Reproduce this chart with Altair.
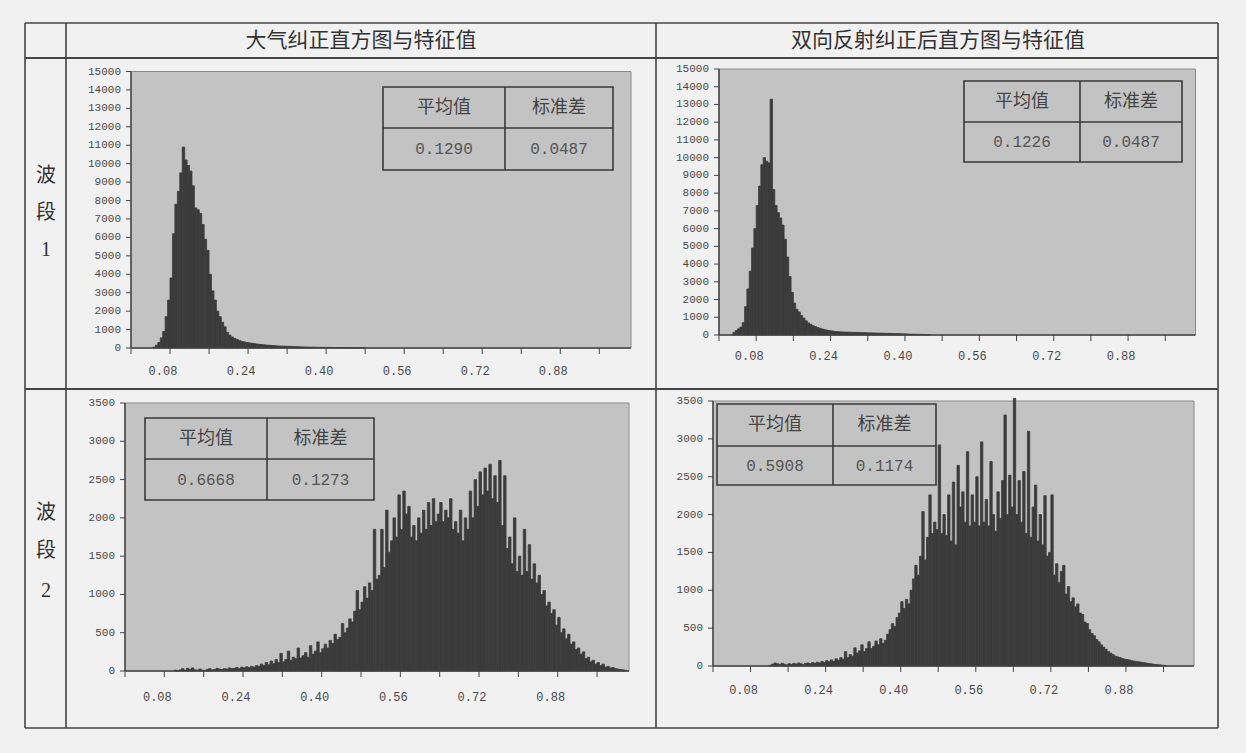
import altair as alt
import pandas as pd

# ---------------- data ----------------
BIN = 0.005
X_MAX = 1.025

# band 1, atmospheric correction (counts per 0.005 bin, starting at p1_start)
p1_start = 0.045
p1_counts = [50, 150, 300, 550, 900, 1700, 2600, 3800, 6200, 7800, 8500, 9500, 10900, 10200, 9900,
             9600, 8800, 7600, 7500, 7300, 6700, 5900, 5300, 4000, 3100, 2600, 2000, 1700, 1400, 1150,
             850, 700, 600, 520, 460, 400, 360, 330, 300, 280, 260, 240, 220, 200, 190, 175, 160, 150,
             140, 130, 120, 110, 105, 100, 95, 90, 85, 80, 75, 70, 65, 60, 55, 50, 48, 45, 42, 40, 38,
             36, 34, 32, 30, 28, 27, 26, 25, 24, 23, 22, 20, 18, 16, 14, 12, 10, 8]

# band 1, BRDF correction
p2_start = 0.030
p2_counts = [150, 250, 350, 450, 700, 1600, 2600, 3600, 4900, 6000, 7300, 8400, 9600, 10000, 9800,
             9700, 13300, 8200, 7300, 6900, 6600, 6200, 5400, 4400, 3300, 2400, 1800, 1450, 1300, 1100,
             950, 800, 680, 600, 520, 470, 420, 380, 340, 300, 280, 250, 230, 210, 195, 185, 175, 170,
             165, 160, 155, 150, 148, 145, 140, 135, 130, 125, 120, 118, 115, 112, 110, 105, 100, 95,
             92, 90, 85, 80, 78, 75, 70, 65, 60, 55, 50, 45, 40, 38, 35, 32, 30, 28, 25]

# band 2, atmospheric correction
p3_start = 0.100
p3_counts = [10, 0, 15, 30, 10, 35, 20, 40, 15, 10, 25, 10, 5, 20, 30, 15, 20, 35, 25, 20,
             30, 25, 40, 30, 35, 45, 30, 50, 40, 55, 45, 60, 50, 70, 60, 90, 70, 110, 80, 130,
             95, 150, 110, 230, 120, 150, 260, 140, 180, 160, 300, 170, 200, 240, 180, 330, 220, 260, 380, 240,
             290, 350, 300, 400, 360, 480, 410, 440, 620, 500, 560, 680, 640, 780, 1050, 800, 900, 1100, 950, 1150,
             1050, 1850, 1200, 1250, 1850, 1350, 2100, 1550, 1700, 2000, 1750, 2300, 1850, 2350, 2050, 2150, 1750, 1900, 1700, 2000,
             1800, 2100, 1850, 2200, 1900, 2250, 1950, 2050, 2200, 1950, 2100, 2000, 2250, 1850, 1950, 1800, 2100, 1700, 2000, 1850,
             2350, 2000, 2500, 2150, 2600, 2300, 2650, 2350, 2700, 2250, 2550, 2200, 2750, 1900, 2550, 1600, 1750, 1400, 2000, 1300,
             1500, 1250, 1850, 1300, 1650, 1200, 1400, 1150, 1250, 1000, 1050, 850, 900, 750, 800, 600, 700, 500, 550, 420,
             480, 350, 380, 280, 300, 220, 250, 160, 180, 120, 140, 90, 110, 70, 90, 50, 60, 40, 45, 30,
             25, 20, 15, 10]

# band 2, BRDF correction
p4_start = 0.120
p4_counts = [10, 25, 40, 30, 20, 35, 25, 15, 30, 20, 35, 25, 40, 30, 20, 35, 40, 30, 45, 35,
             50, 40, 60, 45, 70, 55, 80, 60, 95, 75, 110, 90, 190, 110, 150, 130, 240, 170, 200, 280,
             190, 230, 320, 230, 260, 330, 280, 360, 300, 340, 420, 480, 560, 520, 640, 700, 850, 760, 880, 820,
             1000, 1150, 1330, 1200, 1450, 2040, 1400, 1700, 2260, 1750, 1900, 1800, 2920, 1750, 2000, 1720, 2260, 1650, 2430, 1600,
             2650, 2100, 2300, 1900, 2830, 1850, 2260, 1900, 2500, 1850, 2960, 1900, 2200, 1850, 2700, 2000, 1780, 2300, 1950, 2450,
             3315, 2000, 2520, 2100, 3535, 2000, 2450, 1900, 2570, 1750, 3100, 1700, 2100, 2390, 1650, 2000, 1600, 2250, 1450, 1500,
             2260, 1200, 1350, 1100, 1250, 1330, 950, 1050, 850, 900, 780, 820, 700, 680, 580, 560, 480, 430, 400, 350,
             320, 280, 250, 220, 190, 170, 150, 130, 120, 110, 100, 90, 85, 80, 70, 65, 60, 55, 50, 45,
             40, 35, 30, 25, 20, 18, 15, 10, 8]

x_ticks = [0.0, 0.08, 0.16, 0.24, 0.32, 0.40, 0.48, 0.56, 0.64, 0.72, 0.80, 0.88, 0.96]
x_label_vals = [0.08, 0.24, 0.40, 0.56, 0.72, 0.88]
x_label_text = ["0.08", "0.24", "0.40", "0.56", "0.72", "0.88"]
y_ticks_band1 = [0, 1000, 2000, 3000, 4000, 5000, 6000, 7000, 8000, 9000, 10000, 11000, 12000, 13000, 14000, 15000]
y_ticks_band2 = [0, 500, 1000, 1500, 2000, 2500, 3000, 3500]

col_titles = ["大气纠正直方图与特征值", "双向反射纠正后直方图与特征值"]
row_titles = [["波", "段", "1"], ["波", "段", "2"]]
stat_headers = ["平均值", "标准差"]
stat_means = ["0.1290", "0.1226", "0.6668", "0.5908"]
stat_stds = ["0.0487", "0.0487", "0.1273", "0.1174"]

# ---------------- styles ----------------
PAGE_BG = "#f1f1f1"
PLOT_BG = "#c3c3c3"
BAR = "#3b3b3b"
LINE = "#454545"
CJK = "Noto Sans CJK SC"
NUM = "Liberation Mono"

one = pd.DataFrame({"k": [0]})


def hist_df(start, counts):
    x0 = [round(start + i * BIN, 4) for i in range(len(counts))]
    return pd.DataFrame({"x0": x0, "x1": [round(v + BIN, 4) for v in x0], "n": counts, "z": 0})


def panel(start, counts, xr, yr, ymax, yticks, label_dy):
    xs = alt.Scale(domain=[0, X_MAX], range=xr, nice=False, zero=False)
    ys = alt.Scale(domain=[0, ymax], range=yr, nice=False, zero=False)
    ax = dict(axis=None, scale=xs)
    ay = dict(axis=None, scale=ys)

    bg_df = pd.DataFrame({"a": [0.0], "b": [X_MAX], "c": [0], "d": [ymax]})
    bg = alt.Chart(bg_df).mark_rect(fill=PLOT_BG, stroke="#8a8a8a", strokeWidth=1).encode(
        x=alt.X("a:Q", **ax), x2="b:Q", y=alt.Y("c:Q", **ay), y2="d:Q")

    bars = alt.Chart(hist_df(start, counts)).mark_rect(color=BAR, stroke=BAR, strokeWidth=0.8).encode(
        x=alt.X("x0:Q", **ax), x2="x1:Q", y=alt.Y("n:Q", **ay), y2="z:Q")

    xaxis_line = alt.Chart(bg_df).mark_rule(color=LINE, strokeWidth=1.5).encode(
        x=alt.X("a:Q", **ax), x2="b:Q", y=alt.Y("c:Q", **ay))
    yaxis_line = alt.Chart(bg_df).mark_rule(color=LINE, strokeWidth=1.5).encode(
        x=alt.X("a:Q", **ax), y=alt.Y("c:Q", **ay), y2="d:Q")

    xt_df = pd.DataFrame({"v": x_ticks, "z": 0})
    xt = alt.Chart(xt_df).mark_rule(color=LINE, strokeWidth=1, y2Offset=6).encode(
        x=alt.X("v:Q", **ax), y=alt.Y("z:Q", **ay), y2="z:Q")

    xl_df = pd.DataFrame({"v": x_label_vals, "t": x_label_text, "z": 0})
    xl = alt.Chart(xl_df).mark_text(font=NUM, fontSize=12, color="#4a4a4a", dx=-7, dy=label_dy,
                                    baseline="middle", align="center").encode(
        x=alt.X("v:Q", **ax), y=alt.Y("z:Q", **ay), text="t:N")

    yt_df = pd.DataFrame({"v": yticks, "z": 0.0})
    yt = alt.Chart(yt_df).mark_rule(color=LINE, strokeWidth=1, x2Offset=-5).encode(
        x=alt.X("z:Q", **ax), x2="z:Q", y=alt.Y("v:Q", **ay))
    yl = alt.Chart(yt_df).mark_text(font=NUM, fontSize=11, color="#4a4a4a", dx=-10,
                                    align="right", baseline="middle").encode(
        x=alt.X("z:Q", **ax), y=alt.Y("v:Q", **ay), text=alt.Text("v:Q", format="d"))

    return alt.layer(bg, bars, xaxis_line, yaxis_line, xt, xl, yt, yl)


def vrule(x, y1, y2, w=1.6, color=LINE):
    return alt.Chart(pd.DataFrame(one)).mark_rule(color=color, strokeWidth=w).encode(
        x=alt.value(x), y=alt.value(y1), y2=alt.value(y2))


def hrule(y, x1, x2, w=1.6, color=LINE):
    return alt.Chart(pd.DataFrame(one)).mark_rule(color=color, strokeWidth=w).encode(
        y=alt.value(y), x=alt.value(x1), x2=alt.value(x2))


def text(x, y, s, size, font=CJK, color="#333333"):
    return alt.Chart(pd.DataFrame({"t": [s]})).mark_text(
        font=font, fontSize=size, color=color, align="center", baseline="middle").encode(
        x=alt.value(x), y=alt.value(y), text="t:N")


def stat_box(x1, y1, x2, y2, xm, ym, mean, std):
    frame = alt.Chart(pd.DataFrame(one)).mark_rect(fill=PLOT_BG, stroke="#3a3a3a", strokeWidth=1.6).encode(
        x=alt.value(x1), x2=alt.value(x2), y=alt.value(y1), y2=alt.value(y2))
    c1 = (x1 + xm) / 2
    c2 = (xm + x2) / 2
    r1 = (y1 + ym) / 2
    r2 = (ym + y2) / 2
    return [frame,
            vrule(xm, y1, y2, 1.6, "#3a3a3a"),
            hrule(ym, x1, x2, 1.6, "#3a3a3a"),
            text(c1, r1, stat_headers[0], 18, CJK, "#444444"),
            text(c2, r1, stat_headers[1], 18, CJK, "#444444"),
            text(c1, r2, mean, 16, NUM, "#555555"),
            text(c2, r2, std, 16, NUM, "#555555")]


# ---------------- build ----------------
layers = []

# table frame
L, R, T, B = 25, 1218, 23, 728
layers += [hrule(T, L, R), hrule(B, L, R), hrule(58, L, R, 2.0), hrule(389, L, R, 2.0),
           vrule(L, T, B), vrule(R, T, B), vrule(66, T, B), vrule(656, T, B)]

# column / row titles
layers += [text(361, 41, col_titles[0], 21), text(938, 41, col_titles[1], 21)]
for ch, yy in zip(row_titles[0], [176, 213, 250]):
    layers.append(text(46, yy, ch, 20, CJK if ch != "1" else "Liberation Serif"))
for ch, yy in zip(row_titles[1], [513, 551, 591]):
    layers.append(text(46, yy, ch, 20, CJK if ch != "2" else "Liberation Serif"))

panels = [
    panel(p1_start, p1_counts, [131, 631], [348, 71.5], 15000, y_ticks_band1, 23),
    panel(p2_start, p2_counts, [719, 1195.5], [335, 69], 15000, y_ticks_band1, 21),
    panel(p3_start, p3_counts, [125, 629], [671, 403], 3500, y_ticks_band2, 26),
    panel(p4_start, p4_counts, [713, 1194], [666, 401], 3500, y_ticks_band2, 24),
]

boxes = []
boxes += stat_box(383, 87, 613, 170, 505, 128, stat_means[0], stat_stds[0])
boxes += stat_box(964, 81, 1182, 162, 1080, 122, stat_means[1], stat_stds[1])
boxes += stat_box(145, 418, 374, 500, 267, 459, stat_means[2], stat_stds[2])
boxes += stat_box(717, 404, 936, 485, 833, 446, stat_means[3], stat_stds[3])

chart = alt.layer(*layers, *panels, *boxes).resolve_scale(
    x="independent", y="independent"
).properties(
    width=1246, height=753, padding=0,
    autosize=alt.AutoSizeParams(type="none"),
    background=PAGE_BG,
).configure_view(stroke=None)

chart.save("out.html", embed_options={"renderer": "svg", "actions": False})
